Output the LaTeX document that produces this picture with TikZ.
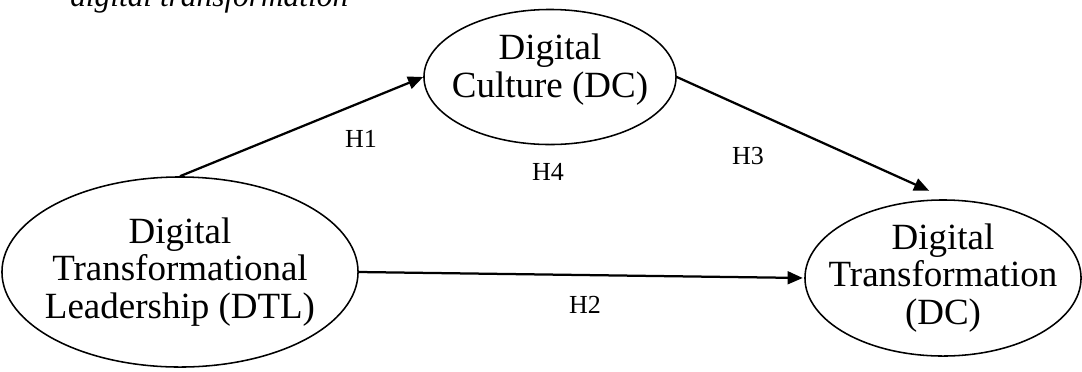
\documentclass[tikz,border=0pt]{standalone}
\usepackage{fontspec}
\setmainfont{Liberation Serif}
\usetikzlibrary{shapes.geometric,arrows.meta}

\begin{document}
\begin{tikzpicture}[x=0.025cm,y=-0.025cm,
    var/.style={draw,ellipse,line width=1.1pt,inner sep=0pt},
    vtext/.style={align=center,font=\fontsize{26.3}{26.7}\selectfont},
    hyp/.style={font=\fontsize{18.5}{20}\selectfont},
    path/.style={-{Triangle[length=0.38cm,width=0.32cm]},line width=1.6pt}]
      \clip (0,0) rectangle (1082,371);
      % caption cut at the top
      \node[anchor=base west,inner sep=0pt,font=\fontsize{22.3}{24}\selectfont\itshape] (cap) at (70,6) {digital transformation};
      \node[var,minimum width=8.9cm,minimum height=4.75cm,
        label={[vtext]center:Digital\\Transformational\\Leadership (DTL)}] (dtl) at (180,272) {};
      \node[var,minimum width=6.3cm,minimum height=3.375cm,
        label={[vtext,yshift=0.18cm]center:Digital\\Culture (DC)}] (dc) at (550,77) {};
      \node[var,minimum width=6.9cm,minimum height=3.9cm,
        label={[vtext]center:Digital\\Transformation\\(DC)}] (dt) at (943,278) {};
      \draw[path] (dtl.north) -- (dc.west);
      \draw[path] (dc.east) -- ([yshift=0.22cm]dt.100);
      \draw[path,shorten >=1pt] (dtl.east) -- (dt.west);
      \node[hyp] (h1) at (361,139) {H1};
      \node[hyp] (h4) at (548,172) {H4};
      \node[hyp] (h3) at (748,156) {H3};
      \node[hyp] (h2) at (585,305) {H2};
\end{tikzpicture}
\end{document}
